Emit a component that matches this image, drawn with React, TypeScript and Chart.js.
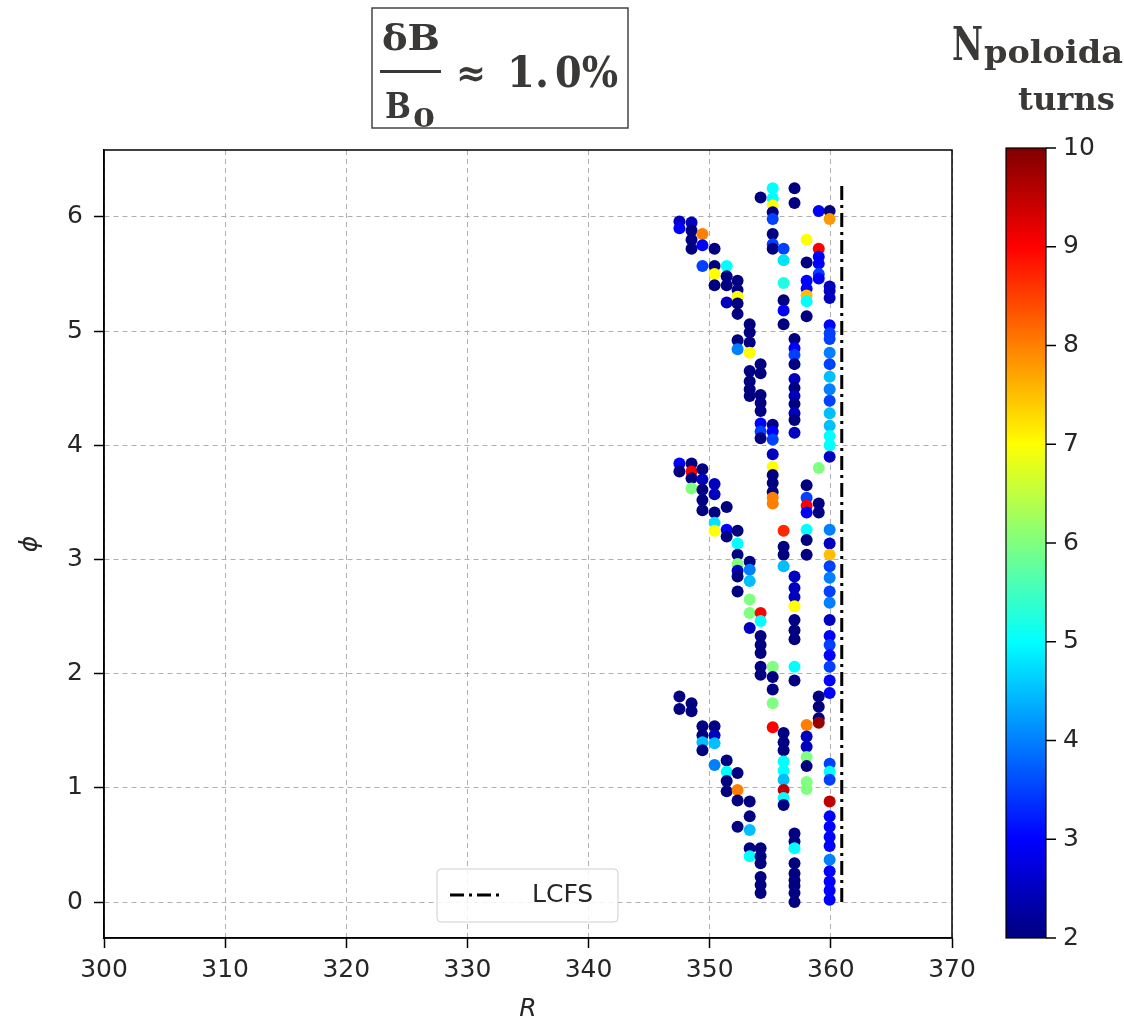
import React, { useEffect, useRef } from "react";
import { Chart, registerables } from "chart.js";

Chart.register(...registerables);

// ---------- data ----------
const xTicks = [300, 310, 320, 330, 340, 350, 360, 370];
const yTicks = [0, 1, 2, 3, 4, 5, 6];
const colorbarTicks = [2, 3, 4, 5, 6, 7, 8, 9, 10];
const colorMin = 2;
const colorMax = 10;

const lcfsR = 360.9;
const lcfsPhi = [0, 6.3];

const columnR = [347.5, 348.5, 349.4, 350.4, 351.4, 352.3, 353.3, 354.2, 355.2, 356.1, 357.0, 358.0, 359.0, 359.9];

const columnPhi: number[][] = [
  [5.96, 5.9, 3.84, 3.77, 1.8, 1.69],
  [5.95, 5.88, 5.8, 5.72, 3.84, 3.77, 3.71, 3.62, 1.74, 1.67],
  [5.85, 5.75, 5.57, 3.79, 3.7, 3.61, 3.52, 3.43, 1.54, 1.46, 1.4, 1.33],
  [5.72, 5.57, 5.5, 5.4, 3.66, 3.57, 3.41, 3.32, 3.25, 1.54, 1.46, 1.39, 1.2],
  [5.57, 5.48, 5.4, 5.25, 3.46, 3.26, 3.2, 1.24, 1.14, 1.06, 0.97],
  [5.44, 5.36, 5.3, 5.24, 5.15, 4.92, 4.84, 3.25, 3.14, 3.04, 2.96, 2.9, 2.85, 2.72, 1.13, 0.98, 0.89, 0.66],
  [5.06, 4.99, 4.9, 4.81, 4.65, 4.56, 4.49, 4.43, 2.98, 2.91, 2.81, 2.65, 2.53, 2.4, 0.88, 0.75, 0.63, 0.47, 0.4],
  [6.17, 4.71, 4.63, 4.44, 4.37, 4.3, 4.19, 4.12, 4.06, 2.53, 2.46, 2.33, 2.25, 2.18, 2.06, 1.99, 0.47, 0.4, 0.34, 0.22, 0.15, 0.08],
  [6.25, 6.16, 6.1, 6.04, 5.98, 5.85, 5.76, 5.72, 4.18, 4.12, 4.05, 3.92, 3.81, 3.74, 3.67, 3.59, 3.54, 3.49, 2.06, 1.97, 1.86, 1.74, 1.53],
  [5.72, 5.62, 5.42, 5.27, 5.18, 5.06, 3.25, 3.11, 3.04, 2.94, 1.48, 1.4, 1.33, 1.23, 1.15, 1.07, 0.98, 0.91, 0.85],
  [6.25, 6.12, 4.93, 4.85, 4.79, 4.71, 4.58, 4.5, 4.43, 4.36, 4.28, 4.22, 4.11, 2.85, 2.75, 2.67, 2.59, 2.47, 2.38, 2.3, 2.06, 1.94, 0.6, 0.53, 0.47, 0.34, 0.25, 0.19, 0.14, 0.08, 0.0],
  [5.8, 5.6, 5.44, 5.37, 5.31, 5.26, 5.13, 3.65, 3.54, 3.47, 3.41, 3.26, 3.17, 3.04, 1.55, 1.45, 1.36, 1.27, 1.19, 1.05, 0.99],
  [6.05, 5.72, 5.65, 5.59, 5.5, 5.46, 3.8, 3.49, 3.41, 1.8, 1.71, 1.61, 1.57],
  [6.05, 5.98, 5.39, 5.35, 5.29, 5.05, 4.98, 4.93, 4.81, 4.71, 4.6, 4.49, 4.39, 4.28, 4.17, 4.08, 4.0, 3.9, 3.26, 3.14, 3.04, 2.94, 2.84, 2.72, 2.62, 2.47, 2.33, 2.25, 2.16, 2.06, 1.94, 1.83, 1.21, 1.14, 1.07, 0.88, 0.75, 0.66, 0.57, 0.49, 0.37, 0.27, 0.18, 0.1, 0.02],
];

const columnN: number[][] = [
  [2.5, 3, 3, 2, 2, 2],
  [2.5, 2, 2, 2, 2, 9, 2, 6, 2, 2],
  [8, 3, 3.5, 2, 2.5, 2, 2, 2, 2, 2, 4.5, 2],
  [2, 2, 7, 2, 2.5, 2.5, 2, 4.8, 7, 2, 2.5, 4.5, 4],
  [5, 2, 2, 2.5, 2, 3, 2, 2, 5, 2, 2],
  [2, 2, 7, 2, 2, 2, 4, 2, 5, 2, 6, 2.5, 2, 2, 2, 8, 2, 2],
  [2, 2, 2, 7, 2, 2, 2, 2, 2, 4, 4.5, 6, 6, 2.5, 2, 2, 4.5, 2, 5],
  [2, 2, 2, 2, 2, 2, 3, 3.5, 2, 9, 5, 2, 2, 2, 2, 2, 2, 2, 2, 2, 2, 2],
  [5, 5, 7, 2, 3.5, 2, 3.5, 2, 2, 3, 3.5, 2.5, 7, 2, 2, 2, 8, 8, 6, 2, 2, 6, 9],
  [3.5, 4.8, 5.2, 2, 3, 2, 8.7, 2, 2, 4.5, 2, 2, 2, 5, 5, 4.5, 9.5, 5, 2],
  [2, 2, 2, 3, 3.5, 2, 2.5, 2, 2.5, 2, 2.5, 2, 2.5, 2.5, 2.5, 2.5, 7, 2, 2, 2, 5, 2, 2, 2, 5, 2, 2, 2, 2, 2, 2],
  [7, 2, 3, 3, 7.5, 5, 2, 2, 3.5, 9, 3, 5, 2, 2, 8, 2.5, 2.5, 6, 2, 6, 6],
  [3, 9, 3, 3, 3.5, 3, 6, 2, 2, 2, 2, 2, 9.8],
  [2, 7.8, 2.5, 2.5, 2.5, 3, 3.5, 3.5, 4, 3.5, 4.5, 4, 3.5, 4.5, 4.5, 5, 5, 2.5, 4, 2.5, 7.5, 3.5, 4, 3.5, 4, 2.5, 3, 3.5, 3, 3.5, 3, 3, 3.5, 5, 3.5, 9.5, 3, 3, 3, 3, 4, 3, 3, 3, 3],
];

// ---------- helpers ----------
function clamp01(v: number) {
  return Math.max(0, Math.min(1, v));
}
function jet(t: number): string {
  const r = clamp01(1.5 - Math.abs(4 * t - 3));
  const g = clamp01(1.5 - Math.abs(4 * t - 2));
  const b = clamp01(1.5 - Math.abs(4 * t - 1));
  return `rgb(${Math.round(r * 255)},${Math.round(g * 255)},${Math.round(b * 255)})`;
}
function colorFor(n: number) {
  return jet((n - colorMin) / (colorMax - colorMin));
}

function fitText(ctx: CanvasRenderingContext2D, text: string, x: number, y: number, w: number, font: string) {
  ctx.font = font;
  const m = ctx.measureText(text).width;
  ctx.save();
  ctx.translate(x, y);
  ctx.scale(w / m, 1);
  ctx.textAlign = "left";
  ctx.fillText(text, 0, 0);
  ctx.restore();
}

const TICK_FONT = "DejaVu Sans";
const TICK_SIZE = 25;
const TEXT_COLOR = "#262626";

const extrasPlugin = {
  id: "extras",
  afterDraw(chart: any) {
    const ctx: CanvasRenderingContext2D = chart.ctx;
    const a = chart.chartArea;
    ctx.save();

    // frame
    ctx.strokeStyle = "#000";
    ctx.lineWidth = 1.5;
    ctx.setLineDash([]);
    ctx.strokeRect(a.left, a.top, a.right - a.left, a.bottom - a.top);

    // axis titles
    ctx.fillStyle = TEXT_COLOR;
    ctx.font = `italic ${TICK_SIZE}px ${TICK_FONT}`;
    ctx.textAlign = "center";
    ctx.textBaseline = "middle";
    ctx.fillText("R", (a.left + a.right) / 2, 1009);
    ctx.save();
    ctx.translate(30, (a.top + a.bottom) / 2);
    ctx.rotate(-Math.PI / 2);
    ctx.fillText("\u03D5", 0, 0);
    ctx.restore();

    // legend
    const lx = 437, ly = 869, lw = 181, lh = 53;
    ctx.beginPath();
    (ctx as any).roundRect(lx, ly, lw, lh, 4);
    ctx.fillStyle = "rgba(255,255,255,0.85)";
    ctx.fill();
    ctx.strokeStyle = "#cfcfcf";
    ctx.lineWidth = 1;
    ctx.stroke();
    ctx.beginPath();
    ctx.setLineDash([14, 5, 3, 5]);
    ctx.strokeStyle = "#000";
    ctx.lineWidth = 3;
    ctx.moveTo(450, 895);
    ctx.lineTo(503, 895);
    ctx.stroke();
    ctx.setLineDash([]);
    ctx.fillStyle = TEXT_COLOR;
    ctx.font = `${TICK_SIZE}px ${TICK_FONT}`;
    ctx.textAlign = "left";
    ctx.textBaseline = "middle";
    ctx.fillText("LCFS", 532, 895);

    // title box
    const titleColor = "#3b3937";
    ctx.strokeStyle = "#444";
    ctx.lineWidth = 1.5;
    ctx.strokeRect(372, 8, 256, 120);
    ctx.fillStyle = titleColor;
    ctx.textBaseline = "alphabetic";
    fitText(ctx, "\u03B4B", 382, 50, 58, "bold 36px DejaVu Serif");
    ctx.fillRect(380, 70, 61, 3);
    fitText(ctx, "B", 385, 118, 26, "bold 36px DejaVu Serif");
    fitText(ctx, "0", 413, 127, 22, "bold 26px DejaVu Serif");
    fitText(ctx, "\u2248", 456, 86, 30, "bold 38px DejaVu Serif");
    fitText(ctx, "1.", 507, 87, 42, "bold 42px DejaVu Serif");
    fitText(ctx, "0%", 555, 87, 63, "bold 42px DejaVu Serif");

    // colorbar label
    fitText(ctx, "N", 952, 60, 31, "bold 46px DejaVu Serif");
    fitText(ctx, "poloida", 984, 63, 139, "bold 32px DejaVu Serif");
    fitText(ctx, "turns", 1018, 110, 97, "bold 32px DejaVu Serif");

    // colorbar
    const cx = 1006, cw = 40, cTop = 148, cBot = 938;
    const grad = ctx.createLinearGradient(0, cBot, 0, cTop);
    for (let i = 0; i <= 40; i++) {
      const t = i / 40;
      grad.addColorStop(t, jet(t));
    }
    ctx.fillStyle = grad;
    ctx.fillRect(cx, cTop, cw, cBot - cTop);
    ctx.strokeStyle = "#000";
    ctx.lineWidth = 1.2;
    ctx.strokeRect(cx, cTop, cw, cBot - cTop);
    ctx.font = `${TICK_SIZE}px ${TICK_FONT}`;
    ctx.fillStyle = TEXT_COLOR;
    ctx.textAlign = "left";
    ctx.textBaseline = "middle";
    ctx.lineWidth = 1.5;
    colorbarTicks.forEach((v) => {
      const y = cBot - ((v - colorMin) / (colorMax - colorMin)) * (cBot - cTop);
      ctx.beginPath();
      ctx.moveTo(cx + cw, y);
      ctx.lineTo(cx + cw + 10, y);
      ctx.stroke();
      ctx.fillText(String(v), cx + cw + 17, y);
    });

    ctx.restore();
  },
};

export default function App() {
  const ref = useRef<HTMLCanvasElement | null>(null);

  useEffect(() => {
    document.body.style.margin = "0";
    const canvas = ref.current;
    if (!canvas) return;

    const points: { x: number; y: number }[] = [];
    const colors: string[] = [];
    columnR.forEach((r, i) => {
      columnPhi[i].forEach((phi, j) => {
        points.push({ x: r, y: phi });
        colors.push(colorFor(columnN[i][j]));
      });
    });

    const gridCommon = {
      color: "#b0b0b0",
      lineWidth: 1,
      drawTicks: true,
      tickLength: 10,
      tickColor: "#000",
      tickWidth: 1.5,
      tickBorderDash: [],
    };

    const chart = new Chart(canvas, {
      type: "scatter",
      data: {
        datasets: [
          {
            type: "scatter",
            data: points,
            pointBackgroundColor: colors,
            pointBorderColor: colors,
            pointBorderWidth: 0,
            pointRadius: 6,
            pointHoverRadius: 6,
            order: 1,
          } as any,
          {
            type: "line",
            label: "LCFS",
            data: lcfsPhi.map((p) => ({ x: lcfsR, y: p })),
            borderColor: "#000",
            borderWidth: 3,
            borderDash: [14, 5, 3, 5],
            pointRadius: 0,
            showLine: true,
            fill: false,
            order: 2,
          } as any,
        ],
      },
      options: {
        responsive: false,
        animation: false,
        devicePixelRatio: 1,
        layout: { padding: { top: 150, right: 172, left: 0, bottom: 0 } },
        plugins: {
          legend: { display: false },
          tooltip: { enabled: false },
          title: { display: false },
        },
        scales: {
          x: {
            type: "linear",
            min: 300,
            max: 370,
            afterBuildTicks: (s: any) => {
              s.ticks = xTicks.map((v) => ({ value: v }));
            },
            afterFit: (s: any) => {
              s.height = 90;
            },
            ticks: {
              font: { family: TICK_FONT, size: TICK_SIZE },
              color: TEXT_COLOR,
              padding: 7,
              maxRotation: 0,
              autoSkip: false,
            },
            grid: gridCommon,
            border: { display: true, color: "#000", width: 1.5, dash: [5, 4] },
          },
          y: {
            type: "linear",
            min: -0.315,
            max: 6.585,
            afterBuildTicks: (s: any) => {
              s.ticks = yTicks.map((v) => ({ value: v }));
            },
            afterFit: (s: any) => {
              s.width = 104;
            },
            ticks: {
              font: { family: TICK_FONT, size: TICK_SIZE },
              color: TEXT_COLOR,
              padding: 11,
              autoSkip: false,
            },
            grid: gridCommon,
            border: { display: true, color: "#000", width: 1.5, dash: [5, 4] },
          },
        },
      } as any,
      plugins: [extrasPlugin],
    });

    return () => chart.destroy();
  }, []);

  return (
    <div style={{ width: 1124, height: 1028, background: "#fff" }}>
      <canvas ref={ref} width={1124} height={1028} style={{ display: "block", width: 1124, height: 1028 }} />
    </div>
  );
}
